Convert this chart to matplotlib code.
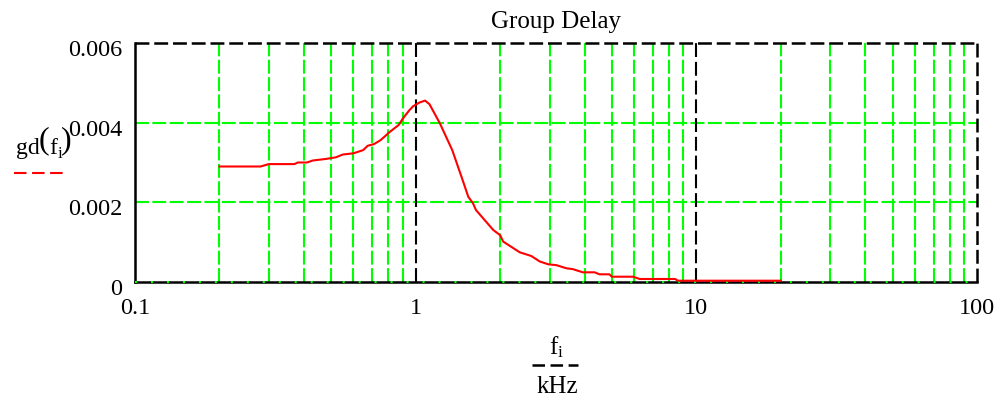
import matplotlib
matplotlib.use("Agg")
import matplotlib.pyplot as plt
import matplotlib.transforms as mtransforms

plt.rcParams['font.family'] = ['Liberation Serif', 'DejaVu Serif']
plt.rcParams['mathtext.fontset'] = 'custom'
plt.rcParams['mathtext.rm'] = 'Liberation Serif'
plt.rcParams['mathtext.it'] = 'Liberation Serif:italic'
plt.rcParams['lines.scale_dashes'] = False

# Data (frequency in kHz, group delay in s)
freq = [0.20, 0.28, 0.30, 0.37, 0.38, 0.41, 0.43, 0.48, 0.52, 0.55, 0.60, 0.65,
        0.675, 0.71, 0.75, 0.81, 0.87, 0.90, 0.95, 0.98, 1.03, 1.08, 1.12, 1.22,
        1.35, 1.47, 1.54, 1.60, 1.64, 1.89, 2.00, 2.05, 2.35, 2.58, 2.77, 2.97,
        3.17, 3.45, 3.63, 3.94, 4.34, 4.52, 4.90, 5.00, 5.96, 6.28, 8.40, 8.60, 20.0]
gd = [0.00290, 0.00290, 0.00296, 0.00296, 0.00300, 0.00300, 0.00305, 0.00309,
      0.00313, 0.00320, 0.00323, 0.00331, 0.00342, 0.00346, 0.00356, 0.00377,
      0.00394, 0.00410, 0.00431, 0.00441, 0.00450, 0.00455, 0.00446, 0.00398,
      0.00331, 0.00256, 0.00214, 0.00198, 0.00181, 0.00131, 0.00118, 0.00102,
      0.00075, 0.00066, 0.00052, 0.00045, 0.00043, 0.00035, 0.00033, 0.00025,
      0.00025, 0.00020, 0.00020, 0.00014, 0.00014, 0.000083, 0.000083, 0.00004,
      0.00004]

x_ticks = [0.1, 1, 10, 100]
x_ticklabels = ["0.1", "1", "10", "100"]
y_ticks = [0, 0.002, 0.004, 0.006]
y_ticklabels = ["0", "0.002", "0.004", "0.006"]
minor_x = [m * d for d in (0.1, 1, 10) for m in range(2, 10)]
major_x = [1, 10]
minor_y = [0.002, 0.004]

GREEN = "#00ff00"
RED = "#ff0000"
FS = 17.5

fig = plt.figure(figsize=(10.01, 4.0), dpi=100)
ax = fig.add_axes([135/1001, 117.7/400, 842/1001, 239.6/400])
ax.set_xscale('log')
ax.set_xlim(0.1, 100)
ax.set_ylim(0, 0.006)

green_ls = (0, (10, 2.5))
black_ls = (0, (10, 3.5))
for xv in minor_x:
    ax.axvline(xv, color=GREEN, lw=1.5, ls=green_ls, zorder=1)
for yv in minor_y:
    ax.axhline(yv, color=GREEN, lw=1.5, ls=green_ls, zorder=1)
for xv in major_x:
    ax.axvline(xv, color='black', lw=1.5, ls=black_ls, zorder=1.5)
# top and right borders as dashed grid lines
ax.axhline(0.006, color='black', lw=1.8, ls=black_ls, zorder=1.5, clip_on=False)
ax.axvline(100, color='black', lw=1.8, ls=black_ls, zorder=1.5, clip_on=False)

for s in ('top', 'right'):
    ax.spines[s].set_visible(False)
for s in ('left', 'bottom'):
    ax.spines[s].set_linewidth(1.8)
    ax.spines[s].set_color('black')
# faint green dashes on bottom axis
ax.axhline(0, color=GREEN, lw=1.5, ls=(0, (1.5, 10)), zorder=3, clip_on=False)

ax.plot(freq, gd, color=RED, lw=1.5, zorder=4)

ax.set_xticks(x_ticks)
ax.set_xticklabels(x_ticklabels)
ax.set_yticks(y_ticks)
ax.set_yticklabels(y_ticklabels)
ax.xaxis.set_minor_locator(matplotlib.ticker.NullLocator())
ax.tick_params(axis='both', length=0, labelsize=FS)
ax.tick_params(axis='x', pad=11)
ax.tick_params(axis='y', pad=9)
offset = mtransforms.ScaledTranslation(0, -5/100, fig.dpi_scale_trans)
for lab in ax.get_yticklabels():
    lab.set_transform(lab.get_transform() + offset)

fig.text(556/1001, 1 - 22/400, "Group Delay", ha='center', va='center', fontsize=18)

# y-axis label gd(f_i) with large parentheses, and legend line
def ftext(x, y, s, **kw):
    fig.text(x/1001, 1 - y/400, s, **kw)

ftext(16, 154, "gd", ha='left', va='baseline', fontsize=17)
ftext(43.5, 141, "(", ha='center', va='center', fontsize=23)
ftext(49, 154, "f", ha='left', va='baseline', fontsize=17)
ftext(57.5, 158, "i", ha='left', va='baseline', fontsize=12)
ftext(66, 141, ")", ha='center', va='center', fontsize=23)
fig.add_artist(plt.Line2D([14/1001, 66/1001], [1 - 173/400, 1 - 173/400],
                          color=RED, lw=1.5, ls=(0, (9, 4)), transform=fig.transFigure))

# x-axis label as fraction
fig.text(557/1001, 1 - 347/400, r"$\mathrm{f}_{\mathrm{i}}$", ha='center', va='center', fontsize=18)
fig.add_artist(plt.Line2D([532/1001, 578/1001], [1 - 365/400, 1 - 365/400],
                          color='black', lw=1.8, ls=(0, (9, 4)), transform=fig.transFigure))
fig.text(557/1001, 1 - 387/400, "kHz", ha='center', va='center', fontsize=18)

fig.savefig("out.png", dpi=100)
